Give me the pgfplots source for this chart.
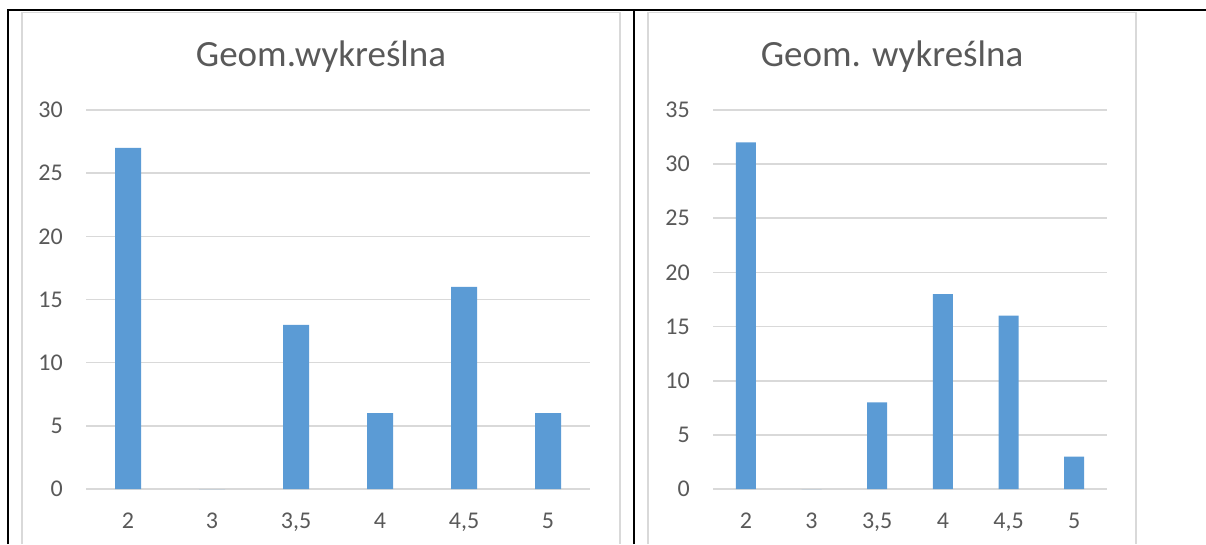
\documentclass[border=0pt]{standalone}
\usepackage{pgfplots}
\pgfplotsset{compat=1.18}
\usepackage{fontspec}
\setmainfont{Carlito}
\definecolor{barblue}{RGB}{91,155,213}
\definecolor{gridgray}{RGB}{217,217,217}
\definecolor{textgray}{RGB}{89,89,89}
\pgfplotsset{
  excelbar/.style={
    scale only axis,
    height=379pt,
    ymin=0,
    xmin=-0.5, xmax=5.5,
    xtick={0,1,2,3,4,5},
    xticklabels={2,3,{3,5},4,{4,5},5},
    ytick distance=5,
    ymajorgrids,
    grid style={gridgray, line width=1.6pt},
    axis line style={draw=none},
    major tick length=0pt,
    /pgf/number format/assume math mode=true,
    tick label style={font=\fontsize{24}{26}\selectfont, text=textgray},
    yticklabel style={anchor=east, inner sep=0pt, xshift=-23pt},
    xticklabel style={anchor=base, inner sep=0pt, yshift=-39pt},
    ybar,
  }
}
\begin{document}
\begin{tikzpicture}[x=1pt,y=1pt]
\path[use as bounding box] (0,0) rectangle (1206,544);
% table frame
\draw[black, line width=2pt] (8,0) -- (8,533.5) -- (1206,533.5);
\draw[black, line width=2pt] (634,0) -- (634,533.5);
% chart borders
\draw[gridgray, line width=1.5pt] (22,0) -- (22,531.5) -- (620,531.5) -- (620,0);
\draw[gridgray, line width=1.5pt] (648,0) -- (648,531.5) -- (1136,531.5) -- (1136,0);
% titles
\node[anchor=base, inner sep=0pt, text=textgray, font=\fontsize{37}{40}\selectfont] at (321,477) {Geom.wykreślna};
\node[anchor=base, inner sep=0pt, text=textgray, font=\fontsize{37}{40}\selectfont] at (892,477) {Geom. wykreślna};

\begin{axis}[excelbar, at={(86pt,55pt)}, anchor=south west, width=504pt, ymax=30, bar width=26pt]
\addplot[fill=barblue, draw=none] coordinates {(0,27) (1,0) (2,13) (3,6) (4,16) (5,6)};
\end{axis}

\begin{axis}[excelbar, at={(713pt,55pt)}, anchor=south west, width=394pt, ymax=35, bar width=20pt]
\addplot[fill=barblue, draw=none] coordinates {(0,32) (1,0) (2,8) (3,18) (4,16) (5,3)};
\end{axis}
\end{tikzpicture}
\end{document}
